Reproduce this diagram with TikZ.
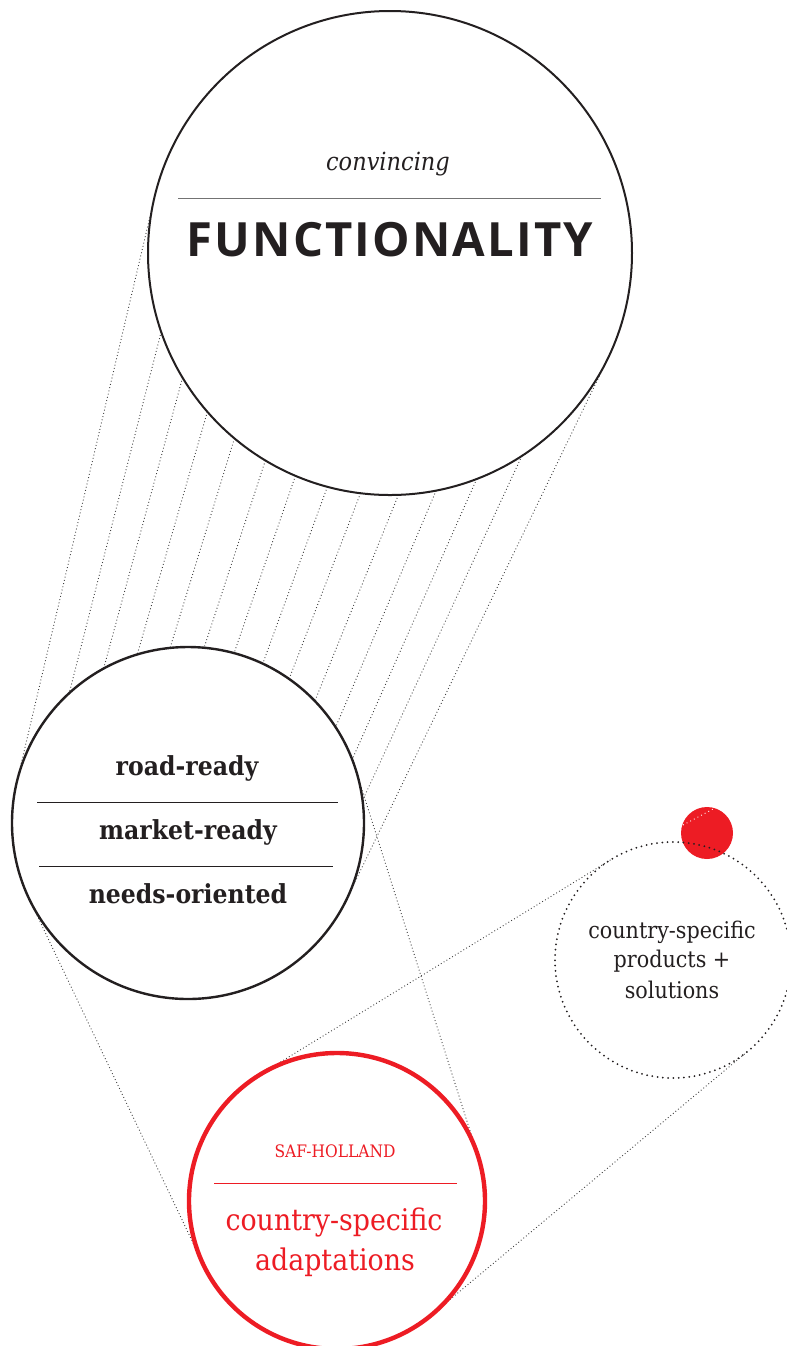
\documentclass[tikz,border=0pt]{standalone}
\usepackage{fontspec}
\setmainfont{DejaVu Serif}[FakeStretch=0.9]
\newfontfamily\headsans{Open Sans}[LetterSpace=4.5]
\usetikzlibrary{backgrounds,calc}
\definecolor{safred}{RGB}{237,28,36}
\definecolor{inkdark}{RGB}{35,31,32}

\tikzset{
  bigring/.style={circle, draw=inkdark, line width=1pt, fill=white, inner sep=0pt, outer sep=0pt, minimum size=242pt},
  midring/.style={circle, draw=inkdark, line width=1.2pt, fill=white, inner sep=0pt, outer sep=0pt, minimum size=176pt},
  redring/.style={circle, draw=safred, line width=2.2pt, fill=white, inner sep=0pt, outer sep=0pt, minimum size=148pt},
  dotring/.style={circle, draw=inkdark, line width=1pt, line cap=round, dash pattern=on 0pt off 2.65pt, inner sep=0pt, outer sep=0pt, minimum size=118pt},
  reddot/.style={circle, fill=safred, inner sep=0pt, outer sep=0pt, minimum size=26pt},
  conn/.style={line width=0.45pt, draw=black!75, dash pattern=on 0.45pt off 1.2pt},
  label/.style={inner sep=0pt, anchor=base, text=inkdark},
  rule/.style={line width=0.5pt, draw=inkdark},
}

\begin{document}
\begin{tikzpicture}[x=0.5pt,y=-0.5pt]
  \useasboundingbox (0,0) rectangle (787,1346);

  % circles
  \node[bigring] (big) at (390,253) {};
  \node[midring] (mid) at (188,823) {};
  \node[redring] (red) at (337,1201) {};
  \node[reddot]  (spot) at (707,833) {};
  \node[dotring] (prod) at (673,960) {};

  % dotted projection lines behind the circles
  \begin{pgfonlayer}{background}
    \foreach \k in {-6,...,5} {
      \pgfmathsetmacro\ang{-109.5+asin((17.4+34.8*\k)/242)}
      \draw[conn] (big.\ang) -- (mid.\ang);
    }
    \draw[conn] (big.166.8) -- (mid.166.8);
    \draw[conn] (big.-25.8) -- (mid.-25.8);
    \draw[conn] (mid.205.45) -- (red.205.45);
    \draw[conn] (mid.17.55) -- (red.17.55);
    \draw[conn] (red.121.5) -- (prod.121.5);
    \draw[conn] (red.-50.2) -- (prod.-50.2);
  \end{pgfonlayer}

  % faint trace across the red spot
  \begin{scope}
    \clip (spot.center) circle (26);
    \draw[line width=0.45pt, draw=white, dash pattern=on 0.45pt off 1.6pt] (683,825) -- (713,809);
  \end{scope}

  % top circle
  \node[label, font=\fontsize{12.5}{15}\selectfont\itshape] (conv) at (388,170) {convincing};
  \draw[line width=0.5pt, draw=black!55] (178,198) -- (601,198);
  \node[label, font=\headsans\bfseries\fontsize{23.6}{28}\selectfont] (func) at (390,256) {FUNCTIONALITY};

  % middle circle
  \node[label, font=\fontsize{13.1}{15}\selectfont\bfseries] (road) at (187,775) {road-ready};
  \draw[rule] (37,802) -- (338,802);
  \node[label, font=\fontsize{13.1}{15}\selectfont\bfseries] (market) at (188,839) {market-ready};
  \draw[rule] (39,866) -- (333,866);
  \node[label, font=\fontsize{13.1}{15}\selectfont\bfseries] (needs) at (188,903) {needs-oriented};

  % dotted circle
  \node[label, font=\fontsize{11.5}{13}\selectfont] (csp) at (672,938) {country-specific};
  \node[label, font=\fontsize{11.5}{13}\selectfont] (prd) at (672,967) {products +};
  \node[label, font=\fontsize{11.5}{13}\selectfont] (sol) at (672,998) {solutions};

  % red circle
  \node[label, text=safred, font=\fontsize{8.6}{10}\selectfont] (saf) at (335,1157) {SAF-HOLLAND};
  \draw[line width=0.5pt, draw=safred] (214,1183) -- (457,1183);
  \node[label, text=safred, font=\fontsize{14.9}{17}\selectfont] (cspr) at (334,1230) {country-specific};
  \node[label, text=safred, font=\fontsize{14.9}{17}\selectfont] (adap) at (335,1270) {adaptations};
\end{tikzpicture}
\end{document}
